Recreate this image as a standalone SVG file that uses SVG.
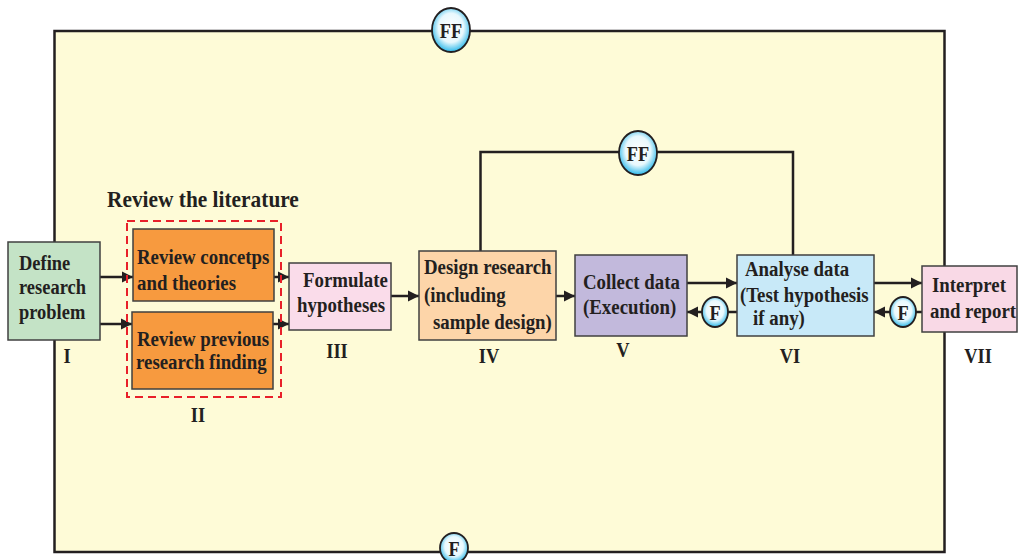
<svg xmlns="http://www.w3.org/2000/svg" width="1022" height="560" viewBox="0 0 1022 560">
<defs>
<radialGradient id="bub" cx="50%" cy="45%" r="55%">
<stop offset="0" stop-color="#ffffff"/>
<stop offset="0.6" stop-color="#e8f8fd"/>
<stop offset="1" stop-color="#2bb8ea"/>
</radialGradient>
<marker id="ah" markerUnits="userSpaceOnUse" markerWidth="12" markerHeight="12" refX="11" refY="6" orient="auto">
<path d="M0,0.5 L11,6 L0,11.5 z" fill="#231f20"/>
</marker>
</defs>
<style>
text{font-family:"Liberation Serif","Times New Roman",serif;font-weight:bold;fill:#231f20}
.t{font-size:20.5px}
.r{font-size:20.5px;text-anchor:middle}
.b{font-size:21px;text-anchor:middle}
.box{stroke:#404040;stroke-width:1.5}
.ln{stroke:#231f20;stroke-width:2.5;fill:none}
.bub{fill:url(#bub);stroke:#231f20;stroke-width:1.8}
</style>
<rect x="0" y="0" width="1022" height="560" fill="#ffffff"/>
<g id="frame">
<rect x="54.5" y="31" width="890" height="521" fill="#fefbd7" stroke="#231f20" stroke-width="2.5"/>
</g>
<g id="connectors">
<line class="ln" x1="100" y1="277" x2="133" y2="277" marker-end="url(#ah)"/>
<line class="ln" x1="100" y1="324" x2="132" y2="324" marker-end="url(#ah)"/>
<line class="ln" x1="274" y1="277" x2="289" y2="277" marker-end="url(#ah)"/>
<line class="ln" x1="273" y1="324" x2="289" y2="324" marker-end="url(#ah)"/>
<line class="ln" x1="391" y1="296" x2="419" y2="296" marker-end="url(#ah)"/>
<line class="ln" x1="556" y1="296" x2="575" y2="296" marker-end="url(#ah)"/>
<line class="ln" x1="687" y1="283" x2="737" y2="283" marker-end="url(#ah)"/>
<line class="ln" x1="874" y1="283" x2="922" y2="283" marker-end="url(#ah)"/>
<line class="ln" x1="737" y1="312" x2="687" y2="312" marker-end="url(#ah)"/>
<line class="ln" x1="922" y1="312" x2="874" y2="312" marker-end="url(#ah)"/>
<path class="ln" d="M480.5,251 V152 H793 V255"/>
</g>
<g id="title"><text transform="translate(107,207) scale(0.93,1)" style="font-size:23px">Review the literature</text></g>
<g id="group-II">
<rect x="127" y="221" width="154" height="176" fill="none" stroke="#e8202a" stroke-width="2" stroke-dasharray="8,5"/>
</g>
<g id="node-I">
<rect class="box" x="8" y="242" width="92" height="98" fill="#c4e3c6"/>
<text class="t" transform="translate(19,270) scale(0.9,1)">Define</text>
<text class="t" transform="translate(19,294) scale(0.9,1)">research</text>
<text class="t" transform="translate(19,319) scale(0.9,1)">problem</text>
<text class="r" transform="translate(67,363) scale(0.9,1)">I</text>
</g>
<g id="node-IIa">
<rect class="box" x="133" y="229" width="141" height="72" fill="#f79a3f"/>
<text class="t" transform="translate(137,264) scale(0.92,1)">Review concetps</text>
<text class="t" transform="translate(137,290) scale(0.92,1)">and theories</text>
</g>
<g id="node-IIb">
<rect class="box" x="132" y="312" width="141" height="77" fill="#f79a3f"/>
<text class="t" transform="translate(137,346) scale(0.92,1)">Review previous</text>
<text class="t" transform="translate(136,369) scale(0.92,1)">research finding</text>
<text class="r" transform="translate(198,422) scale(0.9,1)">II</text>
</g>
<g id="node-III">
<rect class="box" x="289" y="263" width="102" height="67" fill="#fadcea"/>
<text class="t" transform="translate(303,287) scale(0.92,1)">Formulate</text>
<text class="t" transform="translate(297,312) scale(0.92,1)">hypotheses</text>
<text class="r" transform="translate(337,358) scale(0.9,1)">III</text>
</g>
<g id="node-IV">
<rect class="box" x="419" y="251" width="137" height="89" fill="#fdd5a9"/>
<text class="t" transform="translate(424,274) scale(0.92,1)">Design research</text>
<text class="t" transform="translate(424,302) scale(0.92,1)">(including</text>
<text class="t" transform="translate(433,329) scale(0.92,1)">sample design)</text>
<text class="r" transform="translate(489,363) scale(0.9,1)">IV</text>
</g>
<g id="node-V">
<rect class="box" x="575" y="255" width="112" height="81" fill="#c2b9dc"/>
<text class="t" transform="translate(583,289) scale(0.92,1)">Collect data</text>
<text class="t" transform="translate(583,314) scale(0.92,1)">(Execution)</text>
<text class="r" transform="translate(623,357) scale(0.9,1)">V</text>
</g>
<g id="node-VI">
<rect class="box" x="737" y="255" width="137" height="81" fill="#c8e9f8"/>
<text class="t" transform="translate(745,276) scale(0.92,1)">Analyse data</text>
<text class="t" transform="translate(740,302) scale(0.92,1)">(Test hypothesis</text>
<text class="t" transform="translate(753,325) scale(0.92,1)">if any)</text>
<text class="r" transform="translate(790,363) scale(0.9,1)">VI</text>
</g>
<g id="node-VII">
<rect class="box" x="922" y="266" width="95" height="66" fill="#f9d9e6"/>
<text class="t" transform="translate(932,292) scale(0.92,1)">Interpret</text>
<text class="t" transform="translate(930,318) scale(0.92,1)">and report</text>
<text class="r" transform="translate(978,363) scale(0.9,1)">VII</text>
</g>
<g id="bubble-FF-top">
<ellipse class="bub" cx="451" cy="30" rx="19" ry="22"/>
<text class="b" transform="translate(451,38) scale(0.87,1)">FF</text>
</g>
<g id="bubble-FF-mid">
<ellipse class="bub" cx="638" cy="153" rx="19" ry="22"/>
<text class="b" transform="translate(638,161) scale(0.87,1)">FF</text>
</g>
<g id="bubble-F-V">
<ellipse class="bub" cx="715" cy="312" rx="13" ry="15"/>
<text class="b" transform="translate(715,320) scale(0.87,1)">F</text>
</g>
<g id="bubble-F-VI">
<ellipse class="bub" cx="903" cy="312" rx="13" ry="15"/>
<text class="b" transform="translate(903,320) scale(0.87,1)">F</text>
</g>
<g id="bubble-F-bottom">
<ellipse class="bub" cx="454" cy="548" rx="14" ry="15"/>
<text class="b" transform="translate(454,556) scale(0.87,1)">F</text>
</g>
</svg>
